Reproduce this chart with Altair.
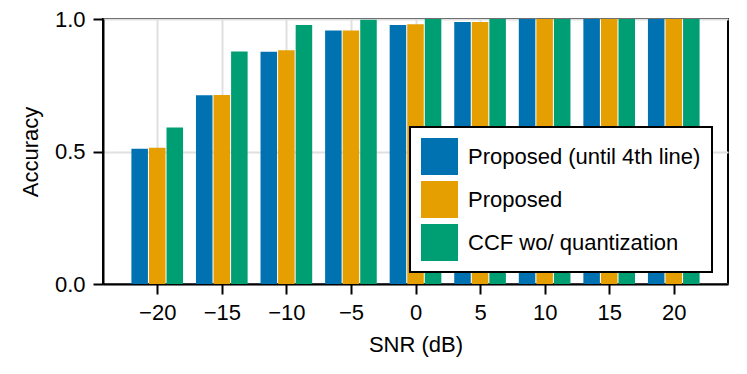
import altair as alt
import pandas as pd

snr = [-20, -15, -10, -5, 0, 5, 10, 15, 20]
series_names = ["Proposed (until 4th line)", "Proposed", "CCF wo/ quantization"]
until4 = [0.510, 0.712, 0.876, 0.957, 0.977, 0.989, 1.0, 1.0, 1.0]
proposed = [0.514, 0.713, 0.882, 0.957, 0.980, 0.989, 1.0, 1.0, 1.0]
ccf = [0.591, 0.877, 0.977, 0.997, 1.0, 1.0, 1.0, 1.0, 1.0]
colors = ["#0072B2", "#E69F00", "#009E73"]

rows = []
for idx, (name, vals) in enumerate(zip(series_names, [until4, proposed, ccf])):
    for s, v in zip(snr, vals):
        rows.append({"snr": s, "series": name, "idx": idx, "acc": v})
df = pd.DataFrame(rows)

FONT = "Liberation Sans"
FS = 22

chart = (
    alt.Chart(df)
    .transform_calculate(
        x0="datum.snr + (datum.idx - 1) * 1.36 - 0.64",
        x1="datum.snr + (datum.idx - 1) * 1.36 + 0.64",
    )
    .mark_bar()
    .encode(
        x=alt.X(
            "x0:Q",
            scale=alt.Scale(domain=[-24.2, 24.2], nice=False, zero=False),
            axis=alt.Axis(values=snr, title="SNR (dB)", format="d", titlePadding=11),
        ),
        x2="x1:Q",
        y=alt.Y(
            "acc:Q",
            scale=alt.Scale(domain=[0, 1], nice=False),
            axis=alt.Axis(values=[0, 0.5, 1.0], format=".1f", title="Accuracy",
                          titlePadding=12),
        ),
        y2=alt.datum(0),
        color=alt.Color(
            "series:N",
            scale=alt.Scale(domain=series_names, range=colors),
            legend=alt.Legend(
                title=None,
                orient="none",
                legendX=307,
                legendY=108,
                symbolType="square",
                symbolSize=1369,
                symbolStrokeWidth=0,
                labelFontSize=FS,
                labelFont=FONT,
                labelColor="black",
                labelOffset=10,
                rowPadding=6,
                padding=11,
                strokeColor="black",
                fillColor="white",
                labelLimit=400,
            ),
        ),
    )
    .properties(
        width=625,
        height=265,
        autosize=alt.AutoSizeParams(type="none"),
        padding={"left": 95, "top": 11, "right": 11, "bottom": 80},
    )
    .configure_view(stroke="black", strokeWidth=2)
    .configure_legend(strokeWidth=2)
    .configure_axis(
        labelFont=FONT,
        titleFont=FONT,
        labelFontSize=FS,
        titleFontSize=FS,
        titleFontWeight="normal",
        labelColor="black",
        titleColor="black",
        domainColor="black",
        domainWidth=2,
        tickColor="black",
        tickWidth=2,
        tickSize=10,
        labelPadding=8,
        grid=True,
        gridColor="#e0e0e0",
        gridWidth=2,
    )
)

chart.save("out.html", embed_options={"renderer": "svg", "actions": False})
